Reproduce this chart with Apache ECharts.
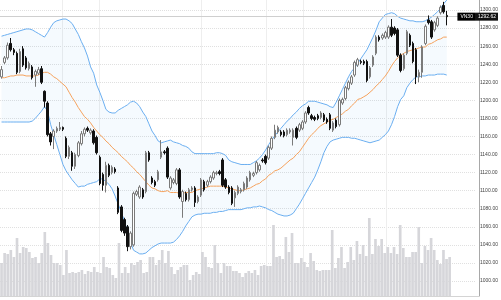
<!DOCTYPE html>
<html><head><meta charset="utf-8">
<script src="https://cdn.jsdelivr.net/npm/echarts@6/dist/echarts.min.js"></script>
<style>html,body{margin:0;padding:0;background:#fff}#c{width:501px;height:300px}</style>
</head><body><div id="c"></div>
<script>
const open=[1226,1242,1247,1263,1256,1252,1232,1257,1247,1235,1237,1228,1230,1235,1210,1197,1163,1160,1166,1168,1170,1158,1138,1142,1127,1139,1152,
1163,1169,1164,1166,1159,1137,1118,1106,1128,1120,1124,1103,1082,1068,1060,1038,1040,1096,1093,1101,1099,1142,1114,1110,1112,1137,1143,
1147,1103,1109,1108,1123,1088,1097,1090,1101,1103,1088,1095,1110,1106,1110,1114,1119,1121,1134,1112,1104,1103,1092,1097,1099,1101,1104,
1112,1117,1120,1123,1134,1138,1136,1147,1159,1165,1165,1165,1162,1165,1159,1169,1167,1169,1176,1192,1183,1181,1183,1181,1184,1179,1184,1167,
1178,1173,1197,1202,1213,1219,1228,1239,1243,1243,1243,1226,1239,1252,1270,1269,1270,1270,1281,1280,1278,1250,1235,1252,1272,1263,1256,
1226,1231,1263,1289,1287,1278,1283,1297,1305,1294];
const close=[1234,1247,1261,1256,1253,1231,1254,1239,1236,1241,1225,1232,1234,1220,1199,1162,1154,1166,1169,1170,1168,1138,1148,1127,1140,1153,1163,
1168,1167,1167,1153,1142,1108,1106,1128,1117,1126,1121,1076,1056,1053,1038,1053,1097,1099,1104,1093,1142,1134,1109,1106,1121,1143,1142,
1115,1114,1112,1123,1093,1099,1090,1101,1103,1087,1093,1112,1101,1110,1115,1120,1120,1119,1106,1104,1098,1086,1098,1104,1101,1108,1114,
1120,1119,1131,1128,1133,1131,1148,1158,1167,1170,1162,1161,1167,1167,1167,1159,1173,1176,1186,1186,1180,1179,1180,1186,1178,1176,1169,1175,
1171,1200,1201,1214,1220,1226,1242,1245,1242,1241,1222,1236,1248,1270,1267,1272,1275,1281,1272,1274,1250,1233,1250,1276,1261,1243,1226,
1231,1259,1282,1286,1270,1286,1291,1303,1298,1292.62];
const low=[1224,1240,1245,1254,1250,1229,1230,1237,1234,1233,1223,1215,1228,1218,1192,1160,1150,1146,1164,1166,1166,1136,1135,1122,1124,1137,1150,
1160,1165,1162,1151,1140,1106,1100,1098,1115,1118,1119,1074,1054,1050,1033,1035,1038,1094,1091,1091,1097,1132,1107,1104,1110,1135,1140,
1113,1101,1107,1106,1091,1070,1088,1088,1099,1082,1086,1093,1099,1104,1108,1112,1117,1117,1104,1102,1096,1084,1082,1095,1097,1099,1102,
1110,1115,1118,1121,1131,1129,1134,1145,1157,1163,1160,1159,1160,1163,1150,1157,1165,1167,1174,1184,1178,1177,1178,1179,1176,1174,1167,1165,
1169,1171,1195,1200,1211,1217,1226,1237,1240,1239,1220,1224,1237,1250,1265,1267,1268,1268,1270,1272,1248,1231,1233,1250,1259,1241,1218,
1220,1225,1261,1284,1268,1276,1281,1295,1296,1283];
const high=[1238,1249,1264,1269,1258,1254,1257,1260,1249,1243,1239,1234,1237,1238,1211,1199,1165,1168,1171,1176,1171,1160,1150,1144,1142,1155,1166,
1170,1171,1169,1168,1161,1139,1120,1132,1130,1128,1126,1105,1084,1070,1062,1055,1099,1101,1106,1103,1144,1144,1116,1112,1123,1156,1145,
1149,1116,1114,1125,1125,1101,1099,1103,1105,1105,1095,1114,1112,1112,1117,1122,1122,1123,1136,1114,1106,1105,1100,1106,1103,1110,1116,
1122,1121,1133,1130,1136,1140,1150,1160,1173,1172,1167,1167,1169,1169,1169,1171,1175,1178,1188,1194,1185,1183,1185,1188,1186,1181,1186,1177,
1180,1202,1203,1216,1222,1228,1244,1247,1245,1245,1245,1238,1250,1272,1272,1274,1277,1283,1290,1282,1280,1252,1252,1278,1274,1265,1258,
1234,1261,1284,1294,1289,1288,1293,1305,1309,1299];
const volume=[33,43,42,46,39,58,43,49,48,44,38,39,33,43,64,53,41,33,33,31,21,46,23,24,23,24,26,22,25,24,
29,24,23,39,29,28,21,18,53,23,29,23,33,31,34,36,23,24,39,39,31,36,46,33,45,29,22,26,29,31,
31,16,21,24,22,44,39,29,28,51,33,23,33,30,30,25,25,23,19,23,25,23,26,21,30,31,30,30,71,39,
40,37,59,44,63,33,33,38,34,29,43,35,26,25,26,26,26,66,28,38,49,28,34,49,36,55,42,51,40,78,
42,57,50,57,43,49,43,49,42,71,48,39,39,44,44,69,33,50,46,58,46,36,32,46,37,39];
const upper=[1271,1272,1273,1274,1275,1276,1277,1278,1279,1279,1278,1276,1274,1272,1270,1275,1281,1286,1288,1289,
1290,1290,1288,1285,1279,1273,1265,1258,1249,1237,1230,1217,1209,1200,1190,1187,1186,1186,1189,1191,
1193,1195,1198,1199,1197,1193,1187,1182,1174,1166,1161,1155,1153,1154,1155,1156,1154,1153,1152,1150,
1149,1147,1143,1141,1141,1141,1141,1141,1141,1141,1142,1142,1141,1139,1134,1132,1131,1130,1129,1129,
1129,1129,1131,1133,1136,1140,1145,1151,1156,1161,1165,1169,1173,1177,1180,1184,1187,1191,1194,1196,
1199,1199,1199,1198,1197,1196,1195,1193,1192,1198,1205,1212,1219,1226,1232,1236,1241,1246,1251,1256,
1263,1270,1278,1287,1291,1295,1296,1297,1296,1293,1291,1290,1289,1288,1288,1287,1287,1287,1288,1290,
1292,1295,1298,1302,1307,1311];
const lower=[1176,1176,1176,1176,1176,1176,1176,1176,1176,1176,1177,1180,1184,1188,1193,1188,1173,1162,1151,1140,
1129,1122,1117,1112,1108,1104,1105,1105,1107,1108,1109,1110,1113,1113,1110,1107,1102,1094,1085,1076,
1067,1054,1043,1034,1032,1030,1030,1031,1034,1037,1039,1041,1042,1042,1042,1042,1043,1046,1050,1055,
1061,1066,1071,1073,1074,1074,1075,1075,1075,1076,1076,1077,1077,1078,1079,1079,1079,1079,1079,1080,
1081,1081,1082,1082,1083,1082,1081,1079,1078,1076,1074,1073,1072,1072,1073,1075,1080,1085,1091,1097,
1103,1109,1115,1123,1132,1142,1149,1154,1156,1157,1158,1159,1159,1159,1158,1158,1157,1156,1155,1154,
1153,1154,1155,1156,1159,1162,1166,1173,1182,1193,1201,1205,1214,1219,1223,1226,1226,1227,1227,1228,
1228,1228,1229,1229,1229,1228];
const sma=[1225,1225,1226,1227,1227,1228,1228,1228,1227,1227,1227,1227,1228,1230,1231,1231,1229,1226,1224,1221,
1218,1215,1209,1203,1198,1192,1187,1182,1179,1175,1170,1166,1162,1159,1155,1152,1148,1145,1142,1138,
1135,1132,1128,1125,1121,1118,1114,1110,1106,1103,1102,1100,1099,1099,1100,1098,1098,1098,1097,1097,
1098,1098,1098,1100,1101,1102,1103,1104,1105,1105,1105,1105,1105,1104,1103,1102,1101,1100,1100,1101,
1102,1103,1105,1107,1108,1111,1113,1117,1119,1122,1123,1125,1128,1131,1134,1136,1140,1143,1148,1153,
1158,1162,1165,1169,1172,1174,1176,1178,1179,1181,1183,1185,1188,1190,1194,1197,1201,1202,1204,1206,
1209,1212,1216,1219,1223,1227,1232,1238,1243,1247,1250,1252,1254,1255,1256,1257,1258,1259,1259,1262,
1263,1265,1267,1268,1270,1270];
const symbolName='VN30';
const lastPrice=1292.62;
const gridMonthIdx=[20,32,65,86,98,125];
const padSlots=9;

const categories=[];
for(let i=0;i<open.length+padSlots;i++) categories.push('d'+(i+1));
const candles=open.map((o,i)=>[o,close[i],low[i],high[i]]);
const bandSpan=upper.map((u,i)=>+(u-lower[i]).toFixed(2));

const chart=echarts.init(document.getElementById('c'),null,{renderer:'canvas'});
chart.setOption({
  animation:false,
  textStyle:{fontFamily:'Liberation Sans, Arial, sans-serif'},
  grid:[{left:-0.55,right:22,top:10,bottom:19},{left:-0.55,right:22,top:0,bottom:4}],
  xAxis:[
    {type:'category',data:categories,gridIndex:0,boundaryGap:true,axisLine:{show:false},axisTick:{show:false},axisLabel:{show:false},splitLine:{show:false}},
    {type:'category',data:categories,gridIndex:1,boundaryGap:true,axisLine:{show:true,lineStyle:{color:'#d4d4d4'}},axisTick:{show:false},axisLabel:{show:false},
     splitLine:{show:true,interval:(i)=>gridMonthIdx.includes(i),lineStyle:{color:'#eeeeee'}}}
  ],
  yAxis:[
    {type:'value',gridIndex:0,position:'right',min:1000,max:1300,interval:20,axisLine:{show:false},axisTick:{show:false},
     axisLabel:{margin:4,fontSize:5,color:'#444',formatter:v=>v.toFixed(2)},
     splitLine:{show:true,lineStyle:{color:'#e0e0e0',type:'dotted'}}},
    {type:'value',gridIndex:1,position:'right',min:0,max:296,axisLine:{show:true,lineStyle:{color:'#a8a8a8'}},axisTick:{show:false},axisLabel:{show:false},splitLine:{show:false}}
  ],
  series:[
    {name:'Volume',type:'bar',xAxisIndex:1,yAxisIndex:1,data:volume,barWidth:'86%',itemStyle:{color:'#d6d6da'},z:1,silent:true},
    {name:'BB lower',type:'line',xAxisIndex:0,yAxisIndex:0,stack:'bb',data:lower,symbol:'none',clip:false,lineStyle:{color:'#6aaef0',width:1},z:2,silent:true},
    {name:'BB upper',type:'line',xAxisIndex:0,yAxisIndex:0,stack:'bb',data:bandSpan,symbol:'none',clip:false,lineStyle:{color:'#6aaef0',width:1},areaStyle:{color:'rgba(33,150,243,0.06)'},z:2,silent:true},
    {name:'SMA',type:'line',xAxisIndex:0,yAxisIndex:0,data:sma,symbol:'none',clip:false,lineStyle:{color:'#f5a25d',width:1},z:3,silent:true},
    {name:symbolName,type:'candlestick',xAxisIndex:0,yAxisIndex:0,data:candles,barWidth:2,clip:false,z:5,
     itemStyle:{color:'#ffffff',color0:'#111111',borderColor:'#7a7a7a',borderColor0:'#111111',borderWidth:1},
     markLine:{symbol:['none','none'],silent:true,animation:false,lineStyle:{color:'#cfcfcf',type:'solid',width:1},
       data:[
         {yAxis:lastPrice,label:{show:true,position:'end',distance:0,formatter:lastPrice.toFixed(2),color:'#fff',backgroundColor:'#111',fontSize:5,padding:[2,2,1,2]}},
         {yAxis:lastPrice,label:{show:true,position:'insideEnd',distance:0,formatter:symbolName,color:'#fff',backgroundColor:'#000',fontSize:5,padding:[2,3,1,3]}}
       ]}}
  ]
});
</script></body></html>
